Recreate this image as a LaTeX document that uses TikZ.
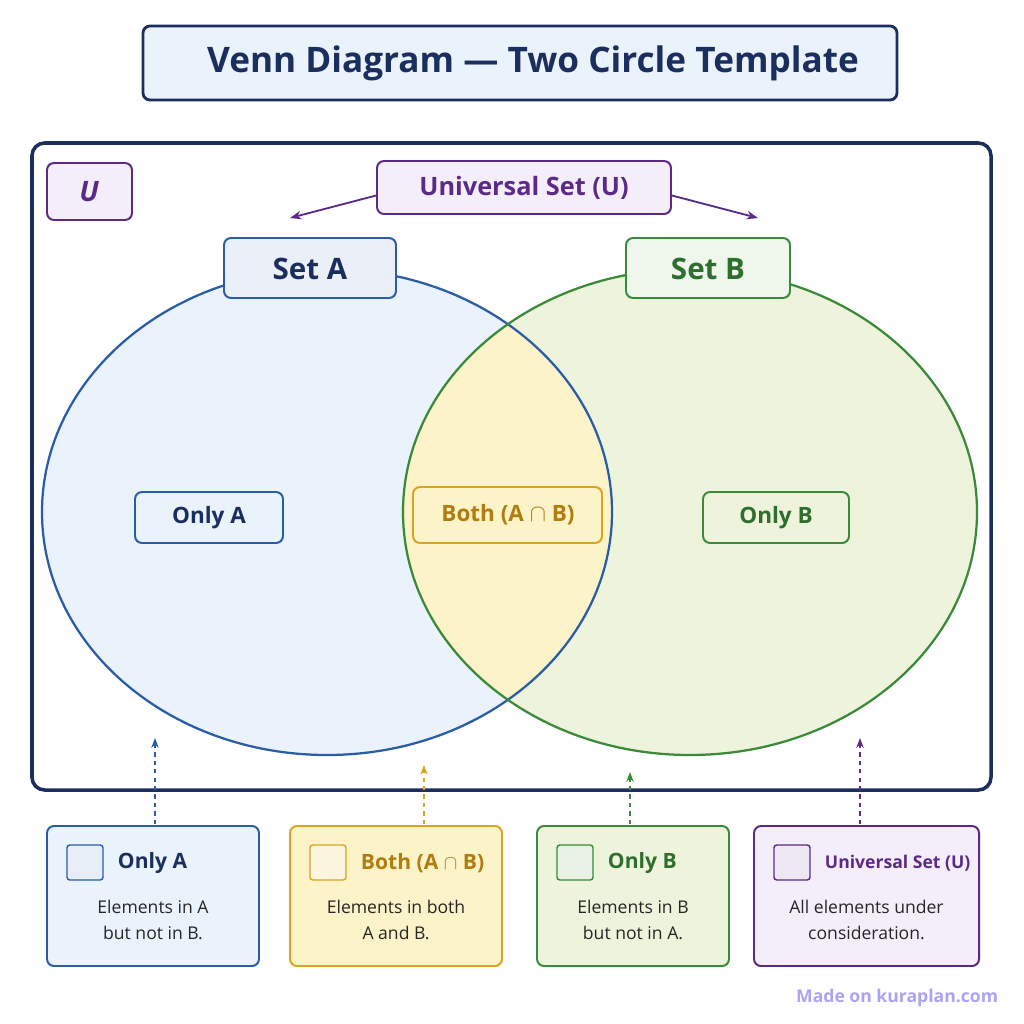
\documentclass[tikz,border=0pt]{standalone}
\usepackage{fontspec}
\setmainfont{Open Sans}
\usetikzlibrary{arrows.meta}
\definecolor{navy}{HTML}{1B2F5E}
\definecolor{ablue}{HTML}{2A5CA8}
\definecolor{afill}{HTML}{EAF2FC}
\definecolor{gr}{HTML}{3A8A3A}
\definecolor{bfill}{HTML}{EEF4DC}
\definecolor{gold}{HTML}{D9A521}
\definecolor{goldt}{HTML}{B07D0E}
\definecolor{yfill}{HTML}{FDF3C8}
\definecolor{pur}{HTML}{5B2A86}
\definecolor{pfill}{HTML}{F4EEFA}
\definecolor{wmc}{HTML}{A9A4F5}
\begin{document}
\begin{tikzpicture}[x=0.025cm,y=-0.025cm,
 box/.style={draw,rounded corners=5pt,line width=1.4pt,inner sep=0pt},
 dasharr/.style={dashed,line width=1pt,-{Stealth[length=7pt]}}]
\useasboundingbox (0,0) rectangle (1024,1024);
\fill[white] (0,0) rectangle (1024,1024);
% title
\draw[box,fill=afill,draw=navy,line width=2pt] (143,26) rectangle (897,100);
\node[font=\fontsize{25}{30}\selectfont\bfseries,text=navy] (title) at (533,63) {Venn Diagram — Two Circle Template};
% universe
\draw[navy,line width=2.5pt,rounded corners=9pt] (32,143) rectangle (991,790);
\draw[box,draw=pur,fill=pfill] (47,163) rectangle (132,220);
\node[font=\fontsize{20}{24}\selectfont\bfseries\itshape,text=pur] (U) at (89,192) {U};
% circles
\fill[afill] (327,512) ellipse [x radius=285,y radius=243];
\fill[bfill] (690,512) ellipse [x radius=287,y radius=243];
\begin{scope}
\clip (327,512) ellipse [x radius=285,y radius=243];
\fill[yfill] (690,512) ellipse [x radius=287,y radius=243];
\end{scope}
\draw[ablue,line width=1.6pt] (327,512) ellipse [x radius=285,y radius=243];
\draw[gr,line width=1.6pt] (690,512) ellipse [x radius=287,y radius=243];
% universal set label
\draw[box,draw=pur,fill=pfill] (377,161) rectangle (671,214);
\node[font=\fontsize{18}{22}\selectfont\bfseries,text=pur] (us) at (524,188) {Universal Set (U)};
\coordinate (ul) at (290,218); \coordinate (ur) at (758,218);
\draw[pur,line width=1.3pt,-{Stealth[length=8pt]}] (378,195) -- (ul);
\draw[pur,line width=1.3pt,-{Stealth[length=8pt]}] (670,195) -- (ur);
% set labels
\draw[box,draw=ablue,fill=afill!70!ablue!25] (224,238) rectangle (396,298);
\node[font=\fontsize{21}{25}\selectfont\bfseries,text=navy] (sa) at (310,269) {Set A};
\draw[box,draw=gr,fill=bfill!75!gr!25] (626,238) rectangle (790,298);
\node[font=\fontsize{21}{25}\selectfont\bfseries,text=gr!80!black] (sb) at (708,269) {Set B};
% region labels
\draw[box,draw=ablue,fill=afill] (135,492) rectangle (283,543);
\node[font=\fontsize{16}{20}\selectfont\bfseries,text=navy] (oa) at (209,518) {Only A};
\draw[box,draw=gold,fill=yfill] (413,487) rectangle (602,543);
\node[font=\fontsize{16}{20}\selectfont\bfseries,text=goldt] (bo) at (508,515) {Both (A $\cap$ B)};
\draw[box,draw=gr,fill=bfill] (703,492) rectangle (849,543);
\node[font=\fontsize{16}{20}\selectfont\bfseries,text=gr!80!black] (ob) at (776,518) {Only B};
% legend
\def\leg#1#2#3#4#5#6#7#8{%
 \draw[box,draw=#3,fill=#4] (#1,826) rectangle (#2,966);
 \draw[#3,fill=#4!70!#3!30,rounded corners=2pt,line width=1pt] (#1+20,845) rectangle (#1+56,880);
 \node[font=\fontsize{15}{18}\selectfont\bfseries,text=#5,anchor=west] at (#1+66,863) {#6};
 \node[font=\fontsize{12.5}{18}\selectfont,text=black!85,align=center] at ({(#1+#2)/2},920) {#7\\#8};}
\leg{47}{259}{ablue}{afill}{navy}{Only A}{Elements in A}{but not in B.}
\leg{290}{502}{gold}{yfill}{goldt}{Both (A $\cap$ B)}{Elements in both}{A and B.}
\leg{537}{729}{gr}{bfill}{gr!80!black}{Only B}{Elements in B}{but not in A.}
\leg{754}{979}{pur}{pfill}{pur}{\fontsize{12.5}{16}\selectfont Universal Set (U)}{All elements under}{consideration.}
\coordinate (l1) at (155,824); \coordinate (t1) at (155,738);
\coordinate (l2) at (424,824); \coordinate (t2) at (424,765);
\coordinate (l3) at (630,824); \coordinate (t3) at (630,772);
\coordinate (l4) at (860,824); \coordinate (t4) at (860,738);
\draw[dasharr,ablue] (l1) -- (t1);
\draw[dasharr,gold] (l2) -- (t2);
\draw[dasharr,gr] (l3) -- (t3);
\draw[dasharr,pur] (l4) -- (t4);
\node[font=\fontsize{12.5}{15}\selectfont\bfseries,text=wmc,anchor=east] (wm) at (1003,998) {Made on kuraplan.com};
\end{tikzpicture}
\end{document}
